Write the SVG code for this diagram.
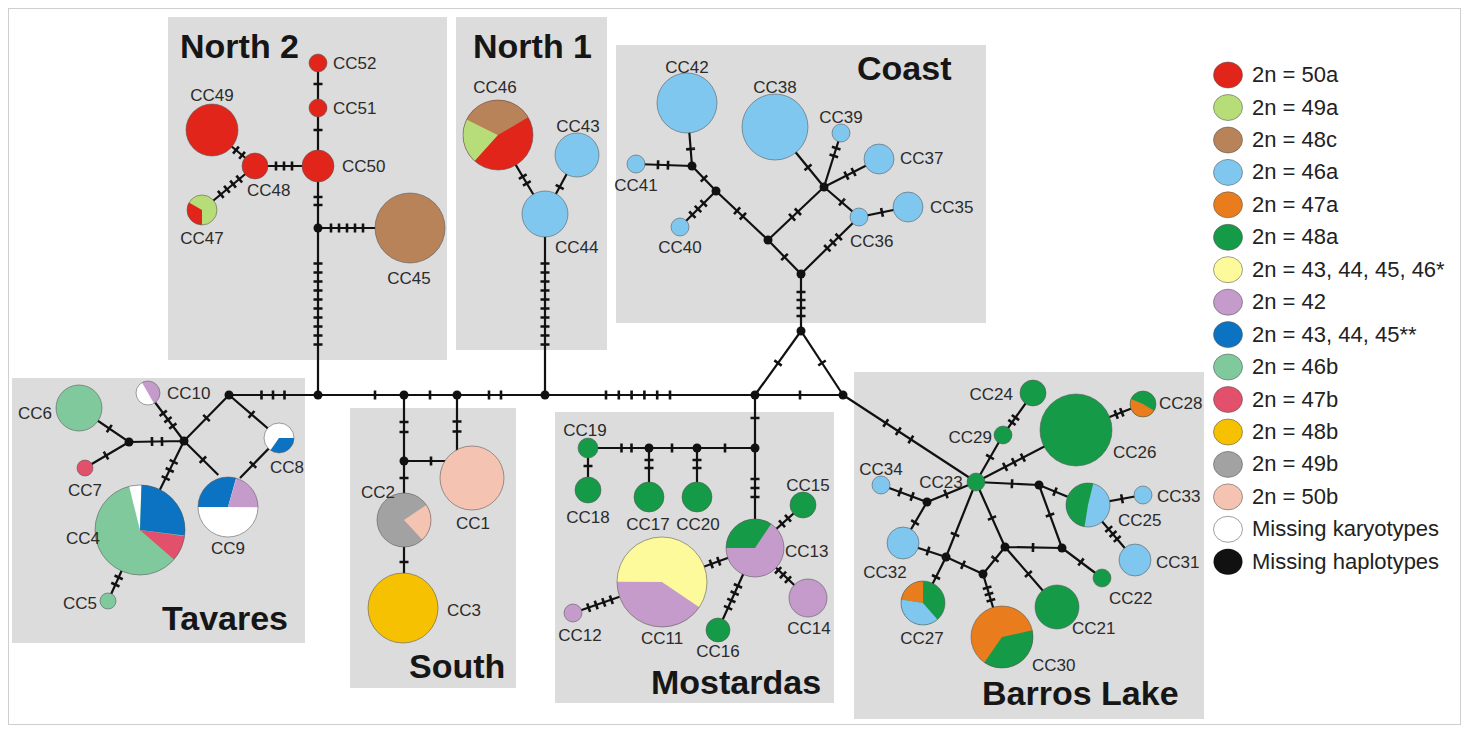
<svg xmlns="http://www.w3.org/2000/svg" width="1467" height="730" viewBox="0 0 1467 730">
<defs>
<style>
.box{fill:#dcdcdc}
.ln{stroke:#111;stroke-width:2.2;fill:none}
.tk{stroke:#111;stroke-width:9;fill:none}
.t1{stroke-dasharray:1.3 99999}
.t2{stroke-dasharray:0 2.7 2.6 99999}
.t3{stroke-dasharray:1.3 5.4 2.6 99999}
.t4{stroke-dasharray:0 2.7 2.6 5.4 2.6 99999}
.t5{stroke-dasharray:1.3 5.4 2.6 5.4 2.6 99999}
.t10{stroke-dasharray:0 3.2 2.6 6.4 2.6 6.4 2.6 6.4 2.6 6.4 2.6 99999}
.s10e{stroke-dasharray:0 3.7 2.6 99999}
.s6e{stroke-dasharray:0 1.7 2.6 99999}
.ol{fill:none;stroke:#555;stroke-width:0.8;stroke-opacity:0.7}
.w{fill:none}
.hub{fill:#111}
.lb{font-family:"Liberation Sans",Arial,sans-serif;font-size:17px;fill:#2b2b2b}
.ttl{font-family:"Liberation Sans",Arial,sans-serif;font-size:34px;font-weight:bold;fill:#161616}
.lg{font-family:"Liberation Sans",Arial,sans-serif;font-size:22px;fill:#222}
.r{fill:#e1251b}.lgr{fill:#b7dd79}.br{fill:#b88359}.lb2{fill:#7fc7ef}.or{fill:#e97d1d}.gr{fill:#159a48}
.ye{fill:#fdfa9c}.pu{fill:#c49bcb}.bl{fill:#0b73c1}.gb{fill:#80c99d}.pr{fill:#e2506b}.yb{fill:#f5c100}
.gy{fill:#a2a2a2}.sa{fill:#f5c3b1}.wh{fill:#ffffff}.bk{fill:#111111}
</style>
</defs>
<rect x="0" y="0" width="1467" height="730" fill="#ffffff"/>
<rect x="8.5" y="8.5" width="1452" height="716" fill="none" stroke="#cfcfcf" stroke-width="1"/>

<g id="regions">
<rect class="box" x="168" y="17" width="279" height="343"/>
<rect class="box" x="456" y="17" width="151" height="333"/>
<rect class="box" x="616" y="45" width="370" height="278"/>
<rect class="box" x="12" y="378" width="293" height="265"/>
<rect class="box" x="350" y="408" width="166" height="280"/>
<rect class="box" x="555" y="412" width="279" height="291"/>
<rect class="box" x="854" y="372" width="350" height="347"/>
</g>

<g id="connectors">
<path class="ln" d="M229 395H843M755 395L801 331L843 395M801 331V274"/>
<path class="ln" d="M801 274L768 240L716 191L692 166L687 103M692 166L636 164M716 191L680 227M768 240L824 187L775 127M824 187L841 133M824 187L879 159M824 187L859 217L908 207M801 274L859 217"/>
<path class="ln" d="M318 63V395M318 228H410M318 166H255L212 130M255 166L202 210"/>
<path class="ln" d="M545 214V395M545 214L498 135M545 214L577 155"/>
<path class="ln" d="M229 395L184 441L129 442L79 408M129 442L85 468M184 441L148 393M184 441L140 530M184 441L218.3 475M229 395L279 438L240 478M140 530L108 601"/>
<path class="ln" d="M404 395V608M404 461H450M457 395V478"/>
<path class="ln" d="M755 395V548M755 448H588V490M649 448V497M697 448V497M755 548L803 505M755 548L808 598M755 548L718 630M755 548L662 582L573 613"/>
<path class="ln" d="M843 395L976 482M976 482L1003 435L1033 393M976 482L1076 430L1143 404M976 482L1039 485L1088 505L1143 495M1088 505L1135 560M1039 485L1062 548L1102 578M1062 548L1005 547L976 482M1005 547L1057 607M1005 547L983 574L1002 637M983 574L946 557L976 482M946 557L903 543M946 557L923 603M976 482L927 502L881 485M927 502L903 543"/>

<path class="tk" style="stroke-dasharray:1.3 8.9 2.6 99999" d="M273 395L229 395M273 395L318 395"/>
<path class="tk t1" d="M375 395L318 395M375 395L404 395"/>
<path class="tk t1" d="M430 395L404 395M430 395L457 395"/>
<path class="tk" style="stroke-dasharray:0 4.7 2.6 99999" d="M495 395L457 395M495 395L545 395"/>
<path class="tk" style="stroke-dasharray:0 5.1 2.6 10.2 2.6 10.2 2.6 99999" d="M638 395L545 395M638 395L755 395"/>
<path class="tk t1" d="M800 395L755 395M800 395L843 395"/>
<path class="tk t1" d="M778 363L755 395M778 363L801 331"/>
<path class="tk t1" d="M822 363L801 331M822 363L843 395"/>
<path class="tk t4" d="M801 304L801 331M801 304L801 274"/>

<path class="tk t1" d="M784.5 257L801 274M784.5 257L768 240"/>
<path class="tk t3" d="M833 242.6L801 274M833 242.6L859 217"/>
<path class="tk t2" d="M740 213.5L768 240M740 213.5L716 191"/>
<path class="tk t2" d="M795 214.5L768 240M795 214.5L824 187"/>
<path class="tk t1" d="M704 178.5L716 191M704 178.5L692 166"/>
<path class="tk t3" d="M698 209L716 191M698 209L680 227"/>
<path class="tk s10e" d="M663 165L692 166M663 165L636 164"/>
<path class="tk t1" d="M690.6 149L692 166M690.6 149L687 103"/>
<path class="tk t1" d="M808 167.4L824 187M808 167.4L775 127"/>
<path class="tk t2" d="M835 152L824 187M835 152L841 133"/>
<path class="tk t2" d="M850 173.8L824 187M850 173.8L879 159"/>
<path class="tk t1" d="M842 202L824 187M842 202L859 217"/>
<path class="tk t1" d="M882 212.3L859 217M882 212.3L908 207"/>

<path class="tk t1" d="M318 84L318 63M318 84L318 108"/>
<path class="tk t1" d="M318 130L318 108M318 130L318 166"/>
<path class="tk t2" d="M318 201L318 166M318 201L318 228"/>
<path class="tk t10" d="M318 304L318 228M318 304L318 395"/>
<path class="tk t5" d="M347 228L318 228M347 228L410 228"/>
<path class="tk t3" d="M284 166L318 166M284 166L255 166"/>
<path class="tk t2" d="M239 152.7L255 166M239 152.7L212 130"/>
<path class="tk t4" d="M230 186.7L255 166M230 186.7L202 210"/>

<path class="tk t10" d="M545 304L545 214M545 304L545 395"/>
<path class="tk t2" d="M524.8 180L545 214M524.8 180L498 135"/>
<path class="tk t1" d="M559.7 187L545 214M559.7 187L577 155"/>

<path class="tk t1" d="M206.5 418L229 395M206.5 418L184 441"/>
<path class="tk t1" d="M251.5 414.4L229 395M251.5 414.4L279 438"/>
<path class="tk s10e" d="M157 441.5L184 441M157 441.5L129 442"/>
<path class="tk t1" d="M109.3 428.6L129 442M109.3 428.6L79 408"/>
<path class="tk t1" d="M106 455.5L129 442M106 455.5L85 468"/>
<path class="tk t3" d="M168 419.7L184 441M168 419.7L148 393"/>
<path class="tk" style="stroke-dasharray:1.3 6.4 2.6 99999" d="M169.7 470L184 441M169.7 470L140 530"/>
<path class="tk t1" d="M202.9 459.7L184 441M202.9 459.7L218.3 475"/>
<path class="tk t1" d="M253 464.7L279 438M253 464.7L240 478"/>
<path class="tk t2" d="M117 581L140 530M117 581L108 601"/>

<path class="tk s10e" d="M404 427L404 395M404 427L404 461"/>
<path class="tk s10e" d="M457 426.5L457 395M457 426.5L457 478"/>
<path class="tk t1" d="M431 461L404 461M431 461L450 461"/>
<path class="tk t1" d="M404 478L404 461M404 478L404 520"/>
<path class="tk t1" d="M404 562L404 520M404 562L404 608"/>

<path class="tk t1" d="M755 418L755 395M755 418L755 448"/>
<path class="tk t1" d="M725 448L755 448M725 448L697 448"/>
<path class="tk t1" d="M672 448L697 448M672 448L649 448"/>
<path class="tk s10e" d="M626.5 448L649 448M626.5 448L588 448"/>
<path class="tk t2" d="M649 464L649 448M649 464L649 497"/>
<path class="tk t2" d="M697 464L697 448M697 464L697 497"/>
<path class="tk t1" d="M588 466L588 448M588 466L588 490"/>
<path class="tk" style="stroke-dasharray:1.3 6.4 2.6 99999" d="M755 488L755 448M755 488L755 548"/>
<path class="tk t2" d="M785 521L755 548M785 521L803 505"/>
<path class="tk" style="stroke-dasharray:1.3 4.2 2.6 99999" d="M783 575L755 548M783 575L808 598"/>
<path class="tk t4" d="M733 596.8L755 548M733 596.8L718 630"/>
<path class="tk t2" d="M715 562.6L755 548M715 562.6L662 582"/>
<path class="tk t4" d="M600 603.7L662 582M600 603.7L573 613"/>

<path class="tk" style="stroke-dasharray:1.3 12.4 2.6 99999" d="M898.3 431.2L843 395M898.3 431.2L976 482"/>
<path class="tk t1" d="M990 457L976 482M990 457L1003 435"/>
<path class="tk s6e" d="M1013.7 420L1003 435M1013.7 420L1033 393"/>
<path class="tk" style="stroke-dasharray:1.3 7.4 2.6 99999" d="M1014 462.2L976 482M1014 462.2L1076 430"/>
<path class="tk s6e" d="M1119 413.4L1076 430M1119 413.4L1143 404"/>
<path class="tk t1" d="M1012 483.7L976 482M1012 483.7L1039 485"/>
<path class="tk t1" d="M1055 491.6L1039 485M1055 491.6L1088 505"/>
<path class="tk t1" d="M1050 515L1039 485M1050 515L1062 548"/>
<path class="tk t1" d="M1122 498.8L1088 505M1122 498.8L1143 495"/>
<path class="tk" style="stroke-dasharray:1.3 3.9 2.6 99999" d="M1113 534L1088 505M1113 534L1135 560"/>
<path class="tk t1" d="M1081 562L1062 548M1081 562L1102 578"/>
<path class="tk t1" d="M1033 547.5L1062 548M1033 547.5L1005 547"/>
<path class="tk t1" d="M992 518L976 482M992 518L1005 547"/>
<path class="tk t1" d="M1028.4 574L1005 547M1028.4 574L1057 607"/>
<path class="tk t1" d="M995 559L1005 547M995 559L983 574"/>
<path class="tk" style="stroke-dasharray:1.3 3.9 2.6 99999" d="M989 594L983 574M989 594L1002 637"/>
<path class="tk t1" d="M963 564.8L983 574M963 564.8L946 557"/>
<path class="tk t1" d="M955 534.5L946 557M955 534.5L976 482"/>
<path class="tk t1" d="M928 551L946 557M928 551L903 543"/>
<path class="tk t1" d="M936 577L946 557M936 577L923 603"/>
<path class="tk t1" d="M946 494L976 482M946 494L927 502"/>
<path class="tk" style="stroke-dasharray:0 5.2 2.6 99999" d="M906 494.2L927 502M906 494.2L881 485"/>
<path class="tk t1" d="M915 522.5L927 502M915 522.5L903 543"/>
</g>

<g id="hubs">
<circle class="hub" cx="229" cy="395" r="4.5"/>
<circle class="hub" cx="184" cy="441" r="4.5"/>
<circle class="hub" cx="129" cy="442" r="4.5"/>
<circle class="hub" cx="318" cy="395" r="4.5"/>
<circle class="hub" cx="318" cy="228" r="4.5"/>
<circle class="hub" cx="404" cy="395" r="4.5"/>
<circle class="hub" cx="457" cy="395" r="4.5"/>
<circle class="hub" cx="404" cy="461" r="4.5"/>
<circle class="hub" cx="545" cy="395" r="4.5"/>
<circle class="hub" cx="755" cy="395" r="4.5"/>
<circle class="hub" cx="755" cy="448" r="4.5"/>
<circle class="hub" cx="697" cy="448" r="4.5"/>
<circle class="hub" cx="649" cy="448" r="4.5"/>
<circle class="hub" cx="801" cy="331" r="4.5"/>
<circle class="hub" cx="843" cy="395" r="4.5"/>
<circle class="hub" cx="801" cy="274" r="4.5"/>
<circle class="hub" cx="768" cy="240" r="4.5"/>
<circle class="hub" cx="716" cy="191" r="4.5"/>
<circle class="hub" cx="692" cy="166" r="4.5"/>
<circle class="hub" cx="824" cy="187" r="4.5"/>
<circle class="hub" cx="1039" cy="485" r="4.5"/>
<circle class="hub" cx="1062" cy="548" r="4.5"/>
<circle class="hub" cx="1005" cy="547" r="4.5"/>
<circle class="hub" cx="983" cy="574" r="4.5"/>
<circle class="hub" cx="946" cy="557" r="4.5"/>
<circle class="hub" cx="927" cy="502" r="4.5"/>
</g>

<g id="nodes">
<g id="CC52"><circle class="r" cx="318" cy="63" r="9"/><circle class="ol" cx="318" cy="63" r="9"/><text class="lb" x="333" y="69">CC52</text></g>
<g id="CC51"><circle class="r" cx="318" cy="108" r="9"/><circle class="ol" cx="318" cy="108" r="9"/><text class="lb" x="333" y="114">CC51</text></g>
<g id="CC50"><circle class="r" cx="318" cy="166" r="16"/><circle class="ol" cx="318" cy="166" r="16"/><text class="lb" x="342" y="172">CC50</text></g>
<g id="CC49"><circle class="r" cx="212" cy="130" r="26"/><circle class="ol" cx="212" cy="130" r="26"/><text class="lb" x="212" y="101" text-anchor="middle">CC49</text></g>
<g id="CC48"><circle class="r" cx="255" cy="166" r="13"/><circle class="ol" cx="255" cy="166" r="13"/><text class="lb" x="247" y="196">CC48</text></g>
<g id="CC47"><circle class="lgr" cx="202" cy="210" r="15"/><circle class="w" cx="202" cy="210" r="7.5" stroke="#e1251b" stroke-width="15" pathLength="100" stroke-dasharray="33.3 100" transform="rotate(90 202 210)"/><circle class="ol" cx="202" cy="210" r="15"/><text class="lb" x="202" y="244" text-anchor="middle">CC47</text></g>
<g id="CC45"><circle class="br" cx="410" cy="228" r="35"/><circle class="ol" cx="410" cy="228" r="35"/><text class="lb" x="409" y="284" text-anchor="middle">CC45</text></g>

<g id="CC46"><circle class="r" cx="498" cy="135" r="35"/><circle class="w" cx="498" cy="135" r="17.5" stroke="#b88359" stroke-width="35" pathLength="100" stroke-dasharray="34.4 100" transform="rotate(206 498 135)"/><circle class="w" cx="498" cy="135" r="17.5" stroke="#b7dd79" stroke-width="35" pathLength="100" stroke-dasharray="20.6 100" transform="rotate(132 498 135)"/><circle class="ol" cx="498" cy="135" r="35"/><text class="lb" x="495" y="93" text-anchor="middle">CC46</text></g>
<g id="CC43"><circle class="lb2" cx="577" cy="155" r="22"/><circle class="ol" cx="577" cy="155" r="22"/><text class="lb" x="578" y="132" text-anchor="middle">CC43</text></g>
<g id="CC44"><circle class="lb2" cx="545" cy="214" r="23"/><circle class="ol" cx="545" cy="214" r="23"/><text class="lb" x="555" y="253">CC44</text></g>

<g id="CC42"><circle class="lb2" cx="687" cy="103" r="30"/><circle class="ol" cx="687" cy="103" r="30"/><text class="lb" x="687" y="73" text-anchor="middle">CC42</text></g>
<g id="CC41"><circle class="lb2" cx="636" cy="164" r="9"/><circle class="ol" cx="636" cy="164" r="9"/><text class="lb" x="636" y="191" text-anchor="middle">CC41</text></g>
<g id="CC40"><circle class="lb2" cx="680" cy="227" r="9"/><circle class="ol" cx="680" cy="227" r="9"/><text class="lb" x="680" y="253" text-anchor="middle">CC40</text></g>
<g id="CC38"><circle class="lb2" cx="775" cy="127" r="33"/><circle class="ol" cx="775" cy="127" r="33"/><text class="lb" x="775" y="93" text-anchor="middle">CC38</text></g>
<g id="CC39"><circle class="lb2" cx="841" cy="133" r="9"/><circle class="ol" cx="841" cy="133" r="9"/><text class="lb" x="841" y="123" text-anchor="middle">CC39</text></g>
<g id="CC37"><circle class="lb2" cx="879" cy="159" r="15"/><circle class="ol" cx="879" cy="159" r="15"/><text class="lb" x="900" y="164">CC37</text></g>
<g id="CC36"><circle class="lb2" cx="859" cy="217" r="9"/><circle class="ol" cx="859" cy="217" r="9"/><text class="lb" x="850" y="247">CC36</text></g>
<g id="CC35"><circle class="lb2" cx="908" cy="207" r="15"/><circle class="ol" cx="908" cy="207" r="15"/><text class="lb" x="930" y="213">CC35</text></g>

<g id="CC6"><circle class="gb" cx="79" cy="408" r="23"/><circle class="ol" cx="79" cy="408" r="23"/><text class="lb" x="18" y="419">CC6</text></g>
<g id="CC7"><circle class="pr" cx="85" cy="468" r="8"/><circle class="ol" cx="85" cy="468" r="8"/><text class="lb" x="85" y="496" text-anchor="middle">CC7</text></g>
<g id="CC10"><circle class="wh" cx="148" cy="393" r="12"/><circle class="w" cx="148" cy="393" r="6" stroke="#c49bcb" stroke-width="12" pathLength="100" stroke-dasharray="50 100" transform="rotate(240 148 393)"/><circle class="ol" cx="148" cy="393" r="12"/><text class="lb" x="167" y="399">CC10</text></g>
<g id="CC8"><circle class="wh" cx="279" cy="438" r="15"/><circle class="w" cx="279" cy="438" r="7.5" stroke="#0b73c1" stroke-width="15" pathLength="100" stroke-dasharray="34.7 100"/><circle class="ol" cx="279" cy="438" r="15"/><text class="lb" x="270" y="473">CC8</text></g>
<g id="CC9"><circle class="wh" cx="228" cy="507" r="30"/><circle class="w" cx="228" cy="507" r="15" stroke="#0b73c1" stroke-width="30" pathLength="100" stroke-dasharray="29.4 100" transform="rotate(180 228 507)"/><circle class="w" cx="228" cy="507" r="15" stroke="#c49bcb" stroke-width="30" pathLength="100" stroke-dasharray="20.6 100" transform="rotate(286 228 507)"/><circle class="ol" cx="228" cy="507" r="30"/><text class="lb" x="228" y="554" text-anchor="middle">CC9</text></g>
<g id="CC4"><circle class="gb" cx="140" cy="530" r="45"/><circle class="w" cx="140" cy="530" r="22.5" stroke="#ffffff" stroke-width="45" pathLength="100" stroke-dasharray="4.4 100" transform="rotate(256 140 530)"/><circle class="w" cx="140" cy="530" r="22.5" stroke="#0b73c1" stroke-width="45" pathLength="100" stroke-dasharray="26.5 100" transform="rotate(272 140 530)"/><circle class="w" cx="140" cy="530" r="22.5" stroke="#e2506b" stroke-width="45" pathLength="100" stroke-dasharray="9.2 100" transform="rotate(8 140 530)"/><circle class="ol" cx="140" cy="530" r="45"/><text class="lb" x="100" y="544" text-anchor="end">CC4</text></g>
<g id="CC5"><circle class="gb" cx="108" cy="601" r="8"/><circle class="ol" cx="108" cy="601" r="8"/><text class="lb" x="97" y="609" text-anchor="end">CC5</text></g>

<g id="CC1"><circle class="sa" cx="472" cy="478" r="32"/><circle class="ol" cx="472" cy="478" r="32"/><text class="lb" x="473" y="529" text-anchor="middle">CC1</text></g>
<g id="CC2"><circle class="gy" cx="404" cy="520" r="27"/><circle class="w" cx="404" cy="520" r="13.5" stroke="#f5c3b1" stroke-width="27" pathLength="100" stroke-dasharray="22.5 100" transform="rotate(-34 404 520)"/><circle class="ol" cx="404" cy="520" r="27"/><text class="lb" x="395" y="498" text-anchor="end">CC2</text></g>
<g id="CC3"><circle class="yb" cx="403" cy="608" r="35"/><circle class="ol" cx="403" cy="608" r="35"/><text class="lb" x="447" y="616">CC3</text></g>

<g id="CC19"><circle class="gr" cx="588" cy="448" r="10"/><circle class="ol" cx="588" cy="448" r="10"/><text class="lb" x="585" y="436" text-anchor="middle">CC19</text></g>
<g id="CC18"><circle class="gr" cx="588" cy="490" r="13"/><circle class="ol" cx="588" cy="490" r="13"/><text class="lb" x="588" y="523" text-anchor="middle">CC18</text></g>
<g id="CC17"><circle class="gr" cx="649" cy="497" r="15"/><circle class="ol" cx="649" cy="497" r="15"/><text class="lb" x="648" y="530" text-anchor="middle">CC17</text></g>
<g id="CC20"><circle class="gr" cx="697" cy="497" r="15"/><circle class="ol" cx="697" cy="497" r="15"/><text class="lb" x="698" y="530" text-anchor="middle">CC20</text></g>
<g id="CC15"><circle class="gr" cx="803" cy="505" r="13"/><circle class="ol" cx="803" cy="505" r="13"/><text class="lb" x="808" y="491" text-anchor="middle">CC15</text></g>
<g id="CC13"><circle class="pu" cx="755" cy="548" r="29"/><circle class="w" cx="755" cy="548" r="14.5" stroke="#159a48" stroke-width="29" pathLength="100" stroke-dasharray="34.4 100" transform="rotate(180 755 548)"/><circle class="ol" cx="755" cy="548" r="29"/><text class="lb" x="785" y="557">CC13</text></g>
<g id="CC14"><circle class="pu" cx="808" cy="598" r="19"/><circle class="ol" cx="808" cy="598" r="19"/><text class="lb" x="809" y="634" text-anchor="middle">CC14</text></g>
<g id="CC16"><circle class="gr" cx="718" cy="630" r="12"/><circle class="ol" cx="718" cy="630" r="12"/><text class="lb" x="718" y="657" text-anchor="middle">CC16</text></g>
<g id="CC11"><circle class="ye" cx="662" cy="582" r="45"/><circle class="w" cx="662" cy="582" r="22.5" stroke="#c49bcb" stroke-width="45" pathLength="100" stroke-dasharray="40.6 100" transform="rotate(34 662 582)"/><circle class="ol" cx="662" cy="582" r="45"/><text class="lb" x="662" y="644" text-anchor="middle">CC11</text></g>
<g id="CC12"><circle class="pu" cx="573" cy="613" r="9"/><circle class="ol" cx="573" cy="613" r="9"/><text class="lb" x="580" y="641" text-anchor="middle">CC12</text></g>

<g id="CC24"><circle class="gr" cx="1033" cy="393" r="13"/><circle class="ol" cx="1033" cy="393" r="13"/><text class="lb" x="1013" y="400" text-anchor="end">CC24</text></g>
<g id="CC29"><circle class="gr" cx="1003" cy="435" r="9"/><circle class="ol" cx="1003" cy="435" r="9"/><text class="lb" x="992" y="443" text-anchor="end">CC29</text></g>
<g id="CC26"><circle class="gr" cx="1076" cy="430" r="36"/><circle class="ol" cx="1076" cy="430" r="36"/><text class="lb" x="1113" y="458">CC26</text></g>
<g id="CC28"><circle class="gr" cx="1143" cy="404" r="13"/><circle class="w" cx="1143" cy="404" r="6.5" stroke="#e97d1d" stroke-width="13" pathLength="100" stroke-dasharray="47.5 100" transform="rotate(31 1143 404)"/><circle class="ol" cx="1143" cy="404" r="13"/><text class="lb" x="1159" y="409">CC28</text></g>
<g id="CC23"><circle class="gr" cx="976" cy="482" r="9"/><circle class="ol" cx="976" cy="482" r="9"/><text class="lb" x="941" y="488" text-anchor="middle">CC23</text></g>
<g id="CC34"><circle class="lb2" cx="881" cy="485" r="9"/><circle class="ol" cx="881" cy="485" r="9"/><text class="lb" x="881" y="475" text-anchor="middle">CC34</text></g>
<g id="CC25"><circle class="lb2" cx="1088" cy="505" r="22"/><circle class="w" cx="1088" cy="505" r="11" stroke="#159a48" stroke-width="22" pathLength="100" stroke-dasharray="51.4 100" transform="rotate(99 1088 505)"/><circle class="ol" cx="1088" cy="505" r="22"/><text class="lb" x="1118" y="526">CC25</text></g>
<g id="CC33"><circle class="lb2" cx="1143" cy="495" r="9"/><circle class="ol" cx="1143" cy="495" r="9"/><text class="lb" x="1157" y="502">CC33</text></g>
<g id="CC31"><circle class="lb2" cx="1135" cy="560" r="16"/><circle class="ol" cx="1135" cy="560" r="16"/><text class="lb" x="1156" y="568">CC31</text></g>
<g id="CC32"><circle class="lb2" cx="903" cy="543" r="16"/><circle class="ol" cx="903" cy="543" r="16"/><text class="lb" x="885" y="578" text-anchor="middle">CC32</text></g>
<g id="CC22"><circle class="gr" cx="1102" cy="578" r="9"/><circle class="ol" cx="1102" cy="578" r="9"/><text class="lb" x="1109" y="604">CC22</text></g>
<g id="CC21"><circle class="gr" cx="1057" cy="607" r="22"/><circle class="ol" cx="1057" cy="607" r="22"/><text class="lb" x="1072" y="634">CC21</text></g>
<g id="CC27"><circle class="gr" cx="923" cy="603" r="22"/><circle class="w" cx="923" cy="603" r="11" stroke="#e97d1d" stroke-width="22" pathLength="100" stroke-dasharray="22.5 100" transform="rotate(189 923 603)"/><circle class="w" cx="923" cy="603" r="11" stroke="#7fc7ef" stroke-width="22" pathLength="100" stroke-dasharray="38.9 100" transform="rotate(49 923 603)"/><circle class="ol" cx="923" cy="603" r="22"/><text class="lb" x="922" y="644" text-anchor="middle">CC27</text></g>
<g id="CC30"><circle class="or" cx="1002" cy="637" r="31"/><circle class="w" cx="1002" cy="637" r="15.5" stroke="#159a48" stroke-width="31" pathLength="100" stroke-dasharray="38.1 100" transform="rotate(347.5 1002 637)"/><circle class="ol" cx="1002" cy="637" r="31"/><text class="lb" x="1032" y="671">CC30</text></g>
</g>

<g id="titles">
<text class="ttl" x="180" y="58">North 2</text>
<text class="ttl" x="473" y="58">North 1</text>
<text class="ttl" x="857" y="80">Coast</text>
<text class="ttl" x="162" y="630">Tavares</text>
<text class="ttl" x="409" y="678">South</text>
<text class="ttl" x="651" y="694">Mostardas</text>
<text class="ttl" x="982" y="705">Barros Lake</text>
</g>

<g id="legend">
<g><ellipse class="r" cx="1228" cy="75" rx="14.5" ry="13"/><ellipse class="ol" cx="1228" cy="75" rx="14.5" ry="13"/><text class="lg" x="1252" y="82">2n = 50a</text></g>
<g><ellipse class="lgr" cx="1228" cy="107.5" rx="14.5" ry="13"/><ellipse class="ol" cx="1228" cy="107.5" rx="14.5" ry="13"/><text class="lg" x="1252" y="114.5">2n = 49a</text></g>
<g><ellipse class="br" cx="1228" cy="140" rx="14.5" ry="13"/><ellipse class="ol" cx="1228" cy="140" rx="14.5" ry="13"/><text class="lg" x="1252" y="147">2n = 48c</text></g>
<g><ellipse class="lb2" cx="1228" cy="172.4" rx="14.5" ry="13"/><ellipse class="ol" cx="1228" cy="172.4" rx="14.5" ry="13"/><text class="lg" x="1252" y="179.4">2n = 46a</text></g>
<g><ellipse class="or" cx="1228" cy="204.8" rx="14.5" ry="13"/><ellipse class="ol" cx="1228" cy="204.8" rx="14.5" ry="13"/><text class="lg" x="1252" y="211.8">2n = 47a</text></g>
<g><ellipse class="gr" cx="1228" cy="237.3" rx="14.5" ry="13"/><ellipse class="ol" cx="1228" cy="237.3" rx="14.5" ry="13"/><text class="lg" x="1252" y="244.3">2n = 48a</text></g>
<g><ellipse class="ye" cx="1228" cy="269.7" rx="14.5" ry="13"/><ellipse class="ol" cx="1228" cy="269.7" rx="14.5" ry="13"/><text class="lg" x="1252" y="276.7">2n = 43, 44, 45, 46*</text></g>
<g><ellipse class="pu" cx="1228" cy="302.2" rx="14.5" ry="13"/><ellipse class="ol" cx="1228" cy="302.2" rx="14.5" ry="13"/><text class="lg" x="1252" y="309.2">2n = 42</text></g>
<g><ellipse class="bl" cx="1228" cy="334.6" rx="14.5" ry="13"/><ellipse class="ol" cx="1228" cy="334.6" rx="14.5" ry="13"/><text class="lg" x="1252" y="341.6">2n = 43, 44, 45**</text></g>
<g><ellipse class="gb" cx="1228" cy="367" rx="14.5" ry="13"/><ellipse class="ol" cx="1228" cy="367" rx="14.5" ry="13"/><text class="lg" x="1252" y="374">2n = 46b</text></g>
<g><ellipse class="pr" cx="1228" cy="399.5" rx="14.5" ry="13"/><ellipse class="ol" cx="1228" cy="399.5" rx="14.5" ry="13"/><text class="lg" x="1252" y="406.5">2n = 47b</text></g>
<g><ellipse class="yb" cx="1228" cy="432" rx="14.5" ry="13"/><ellipse class="ol" cx="1228" cy="432" rx="14.5" ry="13"/><text class="lg" x="1252" y="439">2n = 48b</text></g>
<g><ellipse class="gy" cx="1228" cy="464.4" rx="14.5" ry="13"/><ellipse class="ol" cx="1228" cy="464.4" rx="14.5" ry="13"/><text class="lg" x="1252" y="471.4">2n = 49b</text></g>
<g><ellipse class="sa" cx="1228" cy="496.9" rx="14.5" ry="13"/><ellipse class="ol" cx="1228" cy="496.9" rx="14.5" ry="13"/><text class="lg" x="1252" y="503.9">2n = 50b</text></g>
<g><ellipse class="wh" cx="1228" cy="529.3" rx="14.5" ry="13"/><ellipse class="ol" cx="1228" cy="529.3" rx="14.5" ry="13"/><text class="lg" x="1252" y="536.3">Missing karyotypes</text></g>
<g><ellipse class="bk" cx="1228" cy="561.8" rx="14.5" ry="13"/><text class="lg" x="1252" y="568.8">Missing haplotypes</text></g>
</g>
</svg>
